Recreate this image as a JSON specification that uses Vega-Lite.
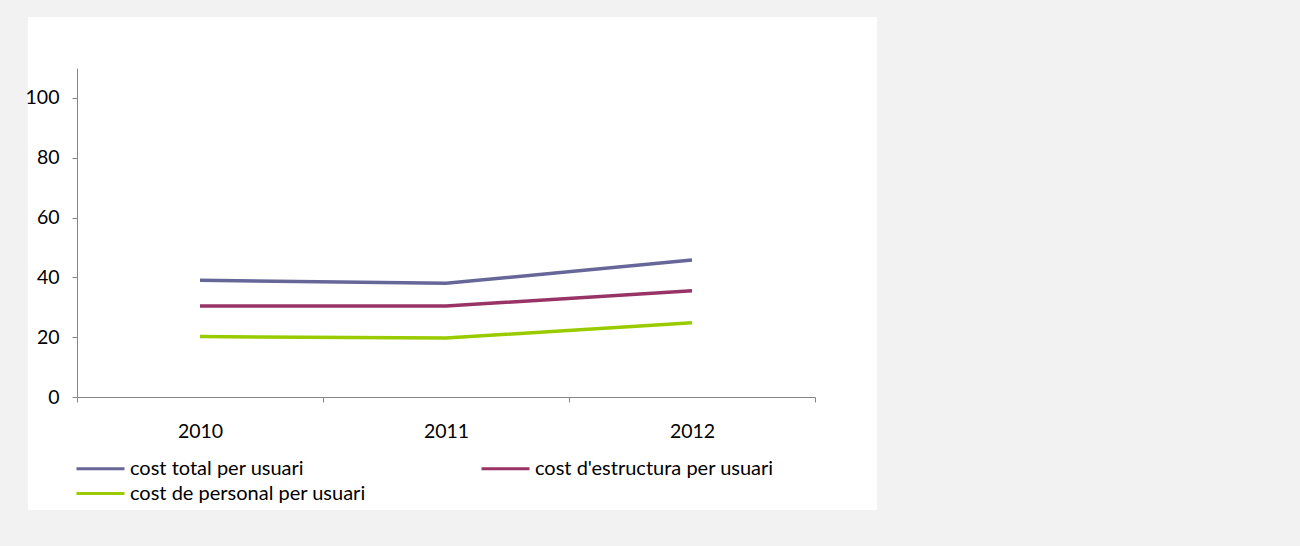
{
  "$schema": "https://vega.github.io/schema/vega-lite/v6.json",
  "width": 849,
  "height": 493,
  "autosize": {"type": "none"},
  "padding": {"left": 28, "top": 17, "right": 423, "bottom": 36},
  "background": "#f2f2f2",
  "config": {"view": {"fill": "white", "stroke": null}, "font": "Lato"},
  "data": {
    "values": [
      {"year": "2010", "series": "cost total per usuari", "value": 39.0},
      {"year": "2011", "series": "cost total per usuari", "value": 38.0},
      {"year": "2012", "series": "cost total per usuari", "value": 45.8},
      {"year": "2010", "series": "cost d'estructura per usuari", "value": 30.4},
      {"year": "2011", "series": "cost d'estructura per usuari", "value": 30.4},
      {"year": "2012", "series": "cost d'estructura per usuari", "value": 35.5},
      {"year": "2010", "series": "cost de personal per usuari", "value": 20.2},
      {"year": "2011", "series": "cost de personal per usuari", "value": 19.7},
      {"year": "2012", "series": "cost de personal per usuari", "value": 24.8}
    ]
  },
  "mark": {"type": "line", "strokeWidth": 3.5},
  "encoding": {
    "x": {
      "field": "year",
      "type": "ordinal",
      "scale": {"type": "band", "range": [49, 787], "paddingInner": 0, "paddingOuter": 0},
      "axis": {
        "title": null,
        "orient": "bottom",
        "offset": -113,
        "labelAngle": 0,
        "tickBand": "extent",
        "domainColor": "#868686",
        "tickColor": "#868686",
        "tickSize": 5,
        "labelPadding": 20,
        "labelFontSize": 19.5,
        "labelColor": "#000000",
        "grid": false
      }
    },
    "y": {
      "field": "value",
      "type": "quantitative",
      "scale": {"domain": [0, 110], "range": [380, 51], "nice": false},
      "axis": {
        "title": null,
        "offset": -49,
        "values": [0, 20, 40, 60, 80, 100],
        "grid": false,
        "domainColor": "#868686",
        "tickColor": "#868686",
        "tickSize": 5,
        "labelPadding": 13,
        "labelFontSize": 19.5,
        "labelColor": "#000000"
      }
    },
    "color": {
      "field": "series",
      "type": "nominal",
      "scale": {
        "domain": ["cost total per usuari", "cost de personal per usuari", "cost d'estructura per usuari"],
        "range": ["#666699", "#99cc00", "#993366"]
      },
      "legend": {
        "title": null,
        "orient": "none",
        "legendX": 61,
        "legendY": 440,
        "padding": 0,
        "columns": 2,
        "gridAlign": "all",
        "symbolType": "M-2.4,0H2.4",
        "symbolSize": 400,
        "symbolStrokeWidth": 3,
        "labelFontSize": 20,
        "labelLimit": 500,
        "labelColor": "#000000",
        "labelOffset": 18,
        "columnPadding": 106,
        "rowPadding": 3
      }
    }
  }
}
